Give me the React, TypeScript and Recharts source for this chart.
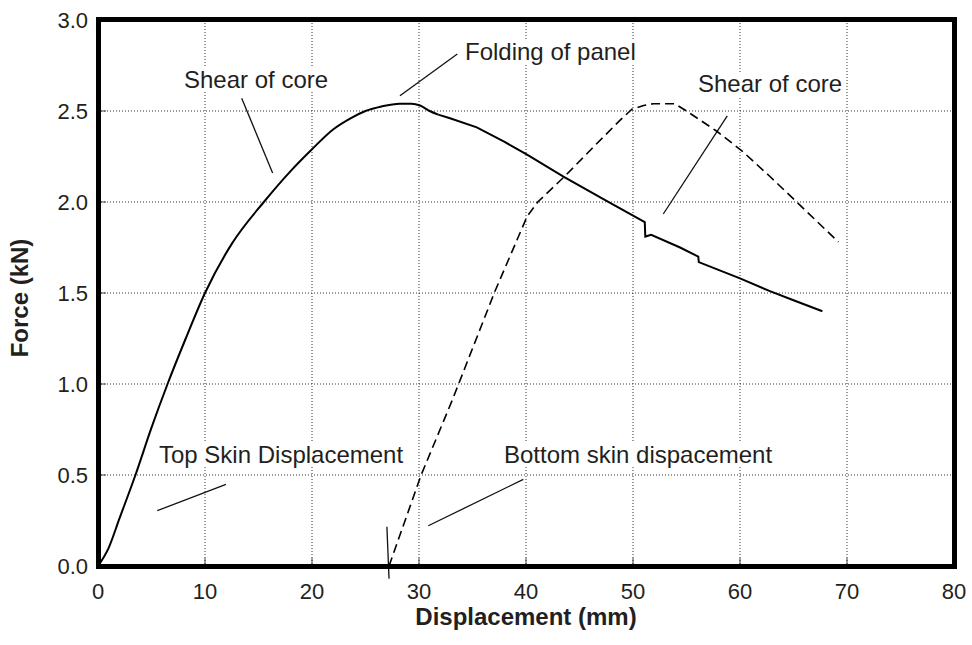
import React from 'react';
import { LineChart, Line, XAxis, YAxis, CartesianGrid, ReferenceLine } from 'recharts';

// top skin (solid), rising part up to the fold — displacement in mm, force in kN
const topRiseX = [0, 1.0, 2.0, 3.5, 5.0, 6.5, 8.2, 10.0, 12.5, 15.5, 18, 20, 22, 23.6, 25, 26.5, 28.2, 29.3, 30.1, 31, 31.8];
const topRiseY = [0, 0.1, 0.26, 0.5, 0.76, 1.0, 1.25, 1.5, 1.77, 2.0, 2.17, 2.29, 2.4, 2.46, 2.5, 2.525, 2.54, 2.54, 2.53, 2.5, 2.48];

// top skin (solid), falling part after the fold
const topFallX = [31.8, 32.9, 35.4, 38, 40.1, 43.5, 47.4, 51.1, 51.15, 51.7, 54.4, 56.1, 56.15, 60, 62.8, 65, 67.7];
const topFallY = [2.48, 2.46, 2.41, 2.33, 2.26, 2.14, 2.01, 1.89, 1.81, 1.82, 1.75, 1.7, 1.67, 1.58, 1.51, 1.46, 1.4];

// bottom skin (dashed)
const bottomSkinX = [27.2, 30.2, 33.1, 37.1, 40.1, 41.1, 43.6, 46.1, 48.8, 49.9, 51.0, 51.9, 53.0, 53.9, 55.0, 57.8, 60.2, 62.8, 65.3, 69.2];
const bottomSkinY = [0, 0.5, 0.91, 1.51, 1.92, 2.0, 2.14, 2.29, 2.45, 2.51, 2.53, 2.54, 2.54, 2.54, 2.5, 2.39, 2.28, 2.14, 2.0, 1.78];

const xTicks = [0, 10, 20, 30, 40, 50, 60, 70, 80];
const yTicks = [0, 0.5, 1.0, 1.5, 2.0, 2.5, 3.0];

// leader lines for the notes, [x1, y1, x2, y2] in data units
const leaders = [
  [13.43, 2.57, 16.32, 2.16],
  [28.22, 2.584, 33.58, 2.813],
  [52.83, 1.934, 58.81, 2.473],
  [5.54, 0.304, 11.96, 0.449],
  [30.87, 0.221, 39.75, 0.476],
  [27.0, 0.216, 27.2, -0.07],
];

const noteTexts = ['Shear of core', 'Folding of panel', 'Shear of core', 'Top Skin Displacement', 'Bottom skin dispacement'];

const toPoints = (xs: number[], ys: number[]) => xs.map((x, i) => ({ x, y: ys[i] }));
const topRise = toPoints(topRiseX, topRiseY);
const topFall = toPoints(topFallX, topFallY);
const bottomSkin = toPoints(bottomSkinX, bottomSkinY);

const font = '"Liberation Sans", Arial, sans-serif';
const notePos = [
  { left: 184, top: 68 },
  { left: 465, top: 40 },
  { left: 698, top: 72 },
  { left: 159, top: 443 },
  { left: 504, top: 443 },
];

export default function App() {
  return (
    <div style={{ position: 'relative', width: 972, height: 645, background: '#fff', fontFamily: font }}>
      <style>{'body{margin:0}'}</style>
      <LineChart width={972} height={645} margin={{ top: 20, right: 18, left: 0, bottom: 0 }}>
        <CartesianGrid stroke="#333" strokeDasharray="1 2" strokeWidth={1} />
        <XAxis
          type="number"
          dataKey="x"
          domain={[0, 80]}
          ticks={xTicks}
          height={79}
          axisLine={false}
          tickSize={-8}
          tickMargin={25}
          tickLine={{ stroke: '#444' }}
          tick={{ fill: '#231f20', fontSize: 22, fontFamily: font }}
        />
        <YAxis
          type="number"
          domain={[0, 3]}
          ticks={yTicks}
          width={98}
          axisLine={false}
          tickSize={-8}
          tickMargin={18}
          tickLine={{ stroke: '#444' }}
          tickFormatter={(v: number) => v.toFixed(1)}
          tick={{ fill: '#231f20', fontSize: 22, fontFamily: font }}
        />
        {leaders.map((s, i) => (
          <ReferenceLine
            key={i}
            segment={[{ x: s[0], y: s[1] }, { x: s[2], y: s[3] }]}
            stroke="#111"
            strokeWidth={1.3}
            ifOverflow="visible"
          />
        ))}
        <Line data={topRise} dataKey="y" type="monotone" stroke="#000" strokeWidth={2} dot={false} isAnimationActive={false} />
        <Line data={topFall} dataKey="y" type="linear" stroke="#000" strokeWidth={2} dot={false} isAnimationActive={false} />
        <Line data={bottomSkin} dataKey="y" type="linear" stroke="#000" strokeWidth={1.6} strokeDasharray="9 5" dot={false} isAnimationActive={false} />
      </LineChart>
      {/* plot frame */}
      <div style={{ position: 'absolute', left: 96, top: 17, width: 861, height: 552, boxSizing: 'border-box', borderStyle: 'solid', borderWidth: 5, borderColor: '#000', zIndex: 5, pointerEvents: 'none' }} />
      {noteTexts.map((t, i) => (
        <span
          key={i}
          style={{ position: 'absolute', left: notePos[i].left, top: notePos[i].top, fontSize: 24, lineHeight: '24px', color: '#231f20', background: '#fff', whiteSpace: 'nowrap' }}
        >
          {t}
        </span>
      ))}
      <span style={{ position: 'absolute', left: 0, width: 1052, textAlign: 'center', top: 605, fontSize: 24, lineHeight: '24px', fontWeight: 'bold', color: '#231f20' }}>
        Displacement (mm)
      </span>
      <span
        style={{ position: 'absolute', left: 20, top: 298, fontSize: 24, lineHeight: '24px', fontWeight: 'bold', color: '#231f20', whiteSpace: 'nowrap', transform: 'translate(-50%, -50%) rotate(-90deg)' }}
      >
        Force (kN)
      </span>
    </div>
  );
}
